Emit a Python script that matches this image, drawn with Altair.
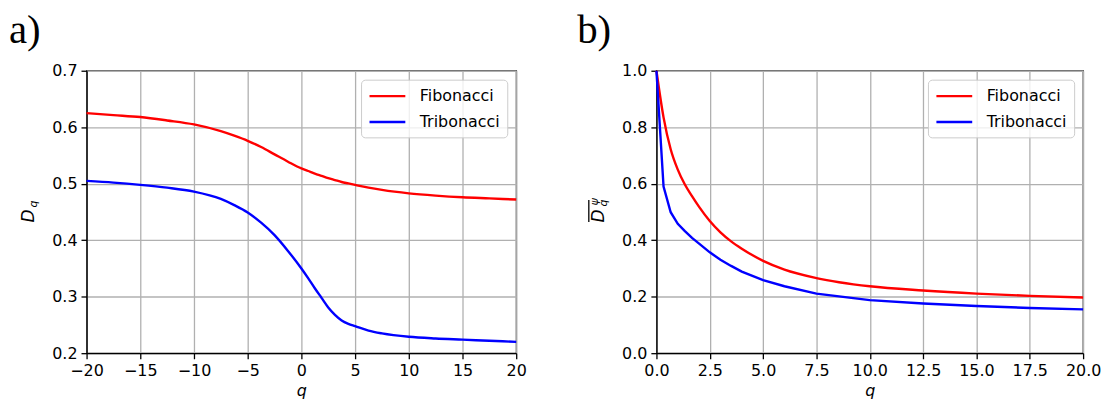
import altair as alt
import pandas as pd

series_names = ["Fibonacci", "Tribonacci"]
series_colors = ["#ff0000", "#0000ff"]

# Panel a) : D_q versus q
q_a = [-20, -17.5, -15, -12.5, -10, -7.5, -6.25, -5, -3.75, -2.5, -1.25, 0,
       0.625, 1.25, 1.875, 2.5, 3.125, 3.75, 4.375, 5, 6.25, 7.5, 10, 12.5, 15, 17.5, 20]
fib_a = [0.625, 0.6215, 0.618, 0.612, 0.605, 0.593, 0.585, 0.576, 0.565, 0.552, 0.539, 0.527,
         0.5225, 0.518, 0.514, 0.510, 0.5065, 0.503, 0.5005, 0.498, 0.493, 0.489,
         0.483, 0.479, 0.476, 0.474, 0.472]
trib_a = [0.505, 0.502, 0.498, 0.493, 0.486, 0.473, 0.462, 0.449, 0.431, 0.409, 0.381, 0.350,
          0.333, 0.315, 0.298, 0.281, 0.268, 0.258, 0.252, 0.248, 0.240, 0.235,
          0.229, 0.226, 0.224, 0.222, 0.220]

# Panel b) : averaged D_q^psi versus q
q_b = [0, 0.333, 0.667, 1.0, 1.333, 1.667, 2.0, 2.5, 3.0, 3.5, 4.0, 5.0, 6.0,
       7.5, 10, 12.5, 15, 17.5, 20]
fib_b = [1.0, 0.835, 0.722, 0.650, 0.597, 0.556, 0.518, 0.468, 0.428, 0.396, 0.370,
         0.327, 0.296, 0.266, 0.237, 0.222, 0.211, 0.203, 0.197]
trib_b = [1.0, 0.59, 0.499, 0.458, 0.432, 0.408, 0.388, 0.357, 0.331, 0.309, 0.289,
          0.259, 0.237, 0.211, 0.188, 0.176, 0.167, 0.160, 0.155]

x_ticks_a = [-20, -15, -10, -5, 0, 5, 10, 15, 20]
y_ticks_a = [0.2, 0.3, 0.4, 0.5, 0.6, 0.7]
x_ticks_b = [0, 2.5, 5, 7.5, 10, 12.5, 15, 17.5, 20]
y_ticks_b = [0.0, 0.2, 0.4, 0.6, 0.8, 1.0]

df_a = pd.DataFrame({
    "q": q_a + q_a,
    "D": fib_a + trib_a,
    "series": [series_names[0]] * len(q_a) + [series_names[1]] * len(q_a),
})
df_b = pd.DataFrame({
    "q": q_b + q_b,
    "D": fib_b + trib_b,
    "series": [series_names[0]] * len(q_b) + [series_names[1]] * len(q_b),
})

FONT = "DejaVu Sans"
W_A, W_B, H = 432, 429, 284

legend = alt.Legend(
    title=None, orient="top-right", offset=9, padding=7,
    symbolType="M-2.25,0H2.25", symbolSize=256, symbolStrokeWidth=2.4,
    symbolOffset=10,
    labelFontSize=16, labelFont=FONT, labelColor="black", labelOffset=23,
    rowPadding=8, strokeColor="#cccccc", cornerRadius=4,
    fillColor="rgba(255,255,255,0.8)",
)


def color_enc():
    return alt.Color("series:N",
                     scale=alt.Scale(domain=series_names, range=series_colors),
                     legend=legend)


def txt(t, x, y, size, **kw):
    return alt.Chart(alt.Data(values=[{"t": t}])).mark_text(
        angle=270, fontStyle="italic", fontSize=size, font=FONT, color="black",
        align="center", baseline="middle", **kw
    ).encode(x=alt.value(x), y=alt.value(y), text="t:N")


def panel_title(label):
    return alt.TitleParams(label, font="Liberation Serif", fontSize=41,
                           fontWeight="normal", anchor="start", frame="bounds",
                           baseline="alphabetic", offset=-21, dx=-11, color="black")


lines_a = alt.Chart(df_a).mark_line(strokeWidth=2.4, interpolate="monotone").encode(
    x=alt.X("q:Q", scale=alt.Scale(domain=[-20, 20], nice=False),
            axis=alt.Axis(values=x_ticks_a, title="q", titleFontStyle="italic")),
    y=alt.Y("D:Q", scale=alt.Scale(domain=[0.2, 0.7], nice=False, zero=False),
            axis=alt.Axis(values=y_ticks_a, format=".1f", title=None)),
    color=color_enc(),
)
panel_a = alt.layer(
    lines_a,
    txt("D", -58, 146, 17),
    txt("q", -53, 134, 11),
).properties(width=W_A, height=H, title=panel_title("a)"))

enc_b = dict(
    x=alt.X("q:Q", scale=alt.Scale(domain=[0, 20], nice=False),
            axis=alt.Axis(values=x_ticks_b, format=".1f", title="q",
                          titleFontStyle="italic")),
    y=alt.Y("D:Q", scale=alt.Scale(domain=[0, 1], nice=False),
            axis=alt.Axis(values=y_ticks_b, format=".1f", title=None)),
    color=color_enc(),
)
base_b = alt.Chart(df_b)
fib_line_b = base_b.transform_filter(
    alt.datum.series == series_names[0]
).mark_line(strokeWidth=2.4, interpolate="monotone").encode(**enc_b)
trib_line_b = base_b.transform_filter(
    alt.datum.series == series_names[1]
).mark_line(strokeWidth=2.4).encode(**enc_b)

overline_b = alt.Chart(alt.Data(values=[{"t": 1}])).mark_rule(
    color="black", strokeWidth=1.3
).encode(x=alt.value(-68), y=alt.value(130), y2=alt.value(152))
panel_b = alt.layer(
    fib_line_b,
    trib_line_b,
    txt("D", -58, 146, 17),
    txt("ψ", -62, 132, 11),
    txt("q", -53, 133, 11),
    overline_b,
).properties(width=W_B, height=H, title=panel_title("b)"))

chart = alt.hconcat(panel_a, panel_b, spacing=49).resolve_scale(
    color="independent"
).properties(
    padding={"left": 0, "top": 0, "right": 0, "bottom": 0}
).configure_axis(
    domainColor="black", domainWidth=1.3, tickColor="black", tickWidth=1.3,
    tickSize=5.6, labelFontSize=16, labelFont=FONT, labelColor="black",
    labelPadding=4, labelFlush=False, labelOverlap=False,
    gridColor="#b0b0b0", gridWidth=1.3,
    titleFontSize=16, titleFont=FONT, titleFontWeight="normal",
    titleColor="black", titlePadding=4,
).configure_view(stroke="black", strokeWidth=1.3)

chart.save("out.html", embed_options={"renderer": "svg", "actions": False})
